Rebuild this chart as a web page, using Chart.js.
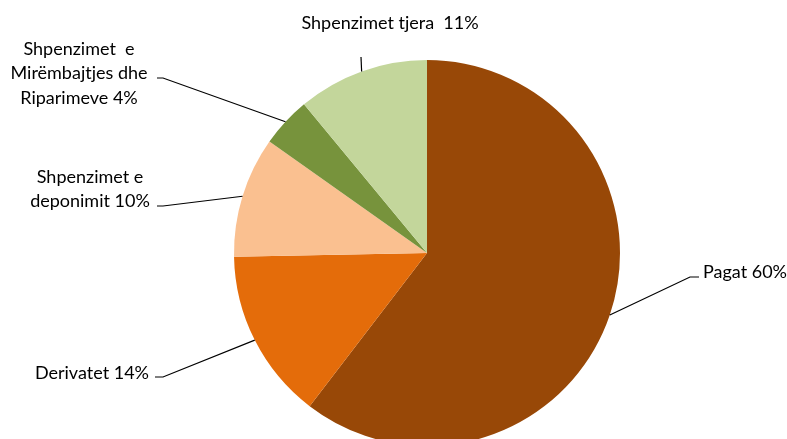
<!DOCTYPE html>
<html>
<head>
<meta charset="utf-8">
<script src="https://cdn.jsdelivr.net/npm/chart.js@4.4.0/dist/chart.umd.min.js"></script>
<style>
  html, body { margin: 0; padding: 0; background: #fff; overflow: hidden; }
  #wrap { width: 787px; height: 439px; overflow: hidden; position: relative; }
  canvas { display: block; }
</style>
</head>
<body>
<div id="wrap"><canvas id="grafica" width="787" height="460"></canvas></div>
<script>
// data
const categories = ['Pagat', 'Derivatet', 'Shpenzimet e deponimit', 'Shpenzimet e Mirëmbajtjes dhe Riparimeve', 'Shpenzimet tjera'];
const values = [60.4, 14.3, 10.1, 4.2, 11.0];
const labelLines = [
    ['Pagat'],
    ['Derivatet'],
    ['Shpenzimet e', 'deponimit'],
    ['Shpenzimet  e', 'Mirëmbajtjes dhe', 'Riparimeve'],
    ['Shpenzimet tjera ']
];
const colors = ['#984807', '#E46C0A', '#FAC090', '#77933C', '#C3D69B'];

// where each label sits (text anchor, first line y, elbow of leader, end of short horizontal)
const labelLayout = [
    { tx: 703, ty: 272, align: 'left',   ex: 690, ey: 277, hx: 699 },
    { tx: 149, ty: 373, align: 'right',  ex: 163, ey: 377, hx: 155 },
    { tx: 90,  ty: 177, align: 'center', ex: 163, ey: 206, hx: 157 },
    { tx: 79,  ty: 49,  align: 'center', ex: 163, ey: 78,  hx: 157 },
    { tx: 390, ty: 23,  align: 'center', ex: 361, ey: 57,  hx: null }
];

const lineHeight = 24.5;
const fontSpec = '18px Lato, "Liberation Sans", sans-serif';

const leaderLabels = {
    id: 'leaderLabels',
    afterDraw(chart) {
        const ctx = chart.ctx;
        const meta = chart.getDatasetMeta(0);
        const total = values.reduce((a, b) => a + b, 0);
        ctx.save();
        meta.data.forEach((arc, i) => {
            const p = arc.getProps(['x', 'y', 'startAngle', 'endAngle', 'outerRadius'], true);
            const mid = (p.startAngle + p.endAngle) / 2;
            const ax = p.x + Math.cos(mid) * p.outerRadius;
            const ay = p.y + Math.sin(mid) * p.outerRadius;
            const L = labelLayout[i];

            ctx.strokeStyle = '#000';
            ctx.lineWidth = 1.2;
            ctx.beginPath();
            ctx.moveTo(ax, ay);
            ctx.lineTo(L.ex, L.ey);
            if (L.hx !== null) ctx.lineTo(L.hx, L.ey);
            ctx.stroke();

            const pct = Math.round(values[i] / total * 100);
            const lines = labelLines[i].slice();
            lines[lines.length - 1] = lines[lines.length - 1] + ' ' + pct + '%';
            ctx.font = fontSpec;
            ctx.fillStyle = '#000';
            ctx.textAlign = L.align;
            ctx.textBaseline = 'middle';
            lines.forEach((t, k) => {
                ctx.fillText(t, L.tx, L.ty + k * lineHeight);
            });
        });
        ctx.restore();
    }
};

const config = {
    type: 'pie',
    data: {
        labels: categories,
        datasets: [{
            data: values,
            backgroundColor: colors,
            borderWidth: 0
        }]
    },
    options: {
        responsive: false,
        animation: false,
        devicePixelRatio: 1,
        layout: {
            padding: { left: 234, right: 167, top: 60, bottom: 14 }
        },
        plugins: {
            legend: { display: false },
            tooltip: { enabled: false }
        }
    },
    plugins: [leaderLabels]
};

let myChart = new Chart(document.getElementById('grafica'), config);
</script>
</body>
</html>
